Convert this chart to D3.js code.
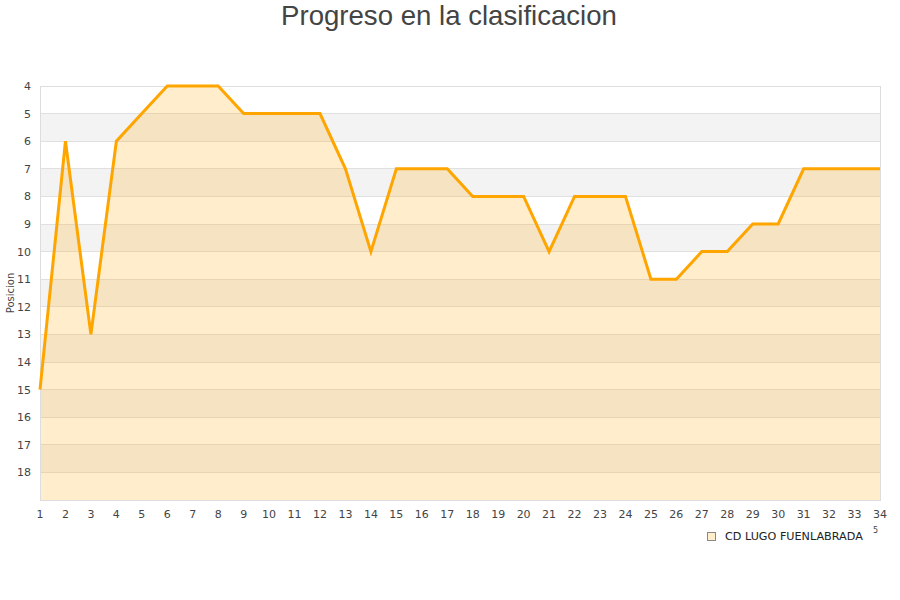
<!DOCTYPE html>
<html><head><meta charset="utf-8">
<script src="https://cdn.jsdelivr.net/npm/d3@7"></script>
<style>body{margin:0;background:#fff}svg{display:block}</style>
</head><body>
<svg id="c" width="900" height="600"></svg>
<script>
const jornadas = d3.range(1, 35);
const posiciones = [15,6,13,6,5,4,4,4,5,5,5,5,7,10,7,7,7,8,8,8,10,8,8,8,11,11,10,10,9,9,7,7,7,7];
const yTicks = [4,5,6,7,8,9,10,11,12,13,14,15,16,17,18];
const seriesName = "CD LUGO FUENLABRADA";
const title = "Progreso en la clasificacion";
const yTitle = "Posicion";

const svg = d3.select("#c");
const L = 40, R = 880, T = 86, B = 500;
const x = d3.scaleLinear().domain([1, 34]).range([L, R]);
const y = d3.scaleLinear().domain([4, 19]).range([T, B]);

// stripes
svg.append("g").selectAll("rect").data(d3.range(4, 19)).join("rect")
  .attr("x", L).attr("width", R - L)
  .attr("y", d => y(d)).attr("height", d => y(d + 1) - y(d))
  .attr("fill", d => d % 2 === 1 ? "#f3f3f3" : "#ffffff");

// gridlines
svg.append("g").selectAll("line").data(d3.range(4, 20)).join("line")
  .attr("x1", L).attr("x2", R).attr("y1", d => y(d)).attr("y2", d => y(d))
  .attr("stroke", "#e0e0e0").attr("stroke-width", 1).attr("shape-rendering", "crispEdges");

// area
const data = jornadas.map((j, i) => ({j, p: posiciones[i]}));
svg.append("path").datum(data)
  .attr("d", d3.area().x(d => x(d.j)).y0(y(19)).y1(d => y(d.p)))
  .attr("fill", "rgba(255,165,0,0.2)");

// frame
svg.append("rect").attr("x", L).attr("y", T).attr("width", R - L).attr("height", B - T)
  .attr("fill", "none").attr("stroke", "#dddddd").attr("shape-rendering", "crispEdges");

// line
svg.append("path").datum(data)
  .attr("d", d3.line().x(d => x(d.j)).y(d => y(d.p)))
  .attr("fill", "none").attr("stroke", "#ffa500").attr("stroke-width", 3)
  .attr("stroke-linejoin", "miter");

// y axis labels
svg.append("g").selectAll("text").data(yTicks).join("text")
  .attr("x", 31).attr("y", d => y(d)).attr("dy", "0.36em")
  .attr("text-anchor", "end")
  .attr("font-family", "DejaVu Sans").attr("font-size", 11).attr("fill", "#444")
  .text(d => d);

// x axis labels
svg.append("g").selectAll("text").data(jornadas).join("text")
  .attr("x", d => x(d)).attr("y", 518)
  .attr("text-anchor", "middle")
  .attr("font-family", "DejaVu Sans").attr("font-size", 11).attr("fill", "#444")
  .text(d => d);

// y title
svg.append("text").attr("transform", "translate(14,293) rotate(-90)")
  .attr("text-anchor", "middle")
  .attr("font-family", "DejaVu Sans").attr("font-size", 10).attr("fill", "#444")
  .text(yTitle);

// title
svg.append("text").attr("x", 449).attr("y", 25).attr("text-anchor", "middle")
  .attr("font-family", "Liberation Sans, Arial, sans-serif").attr("font-size", 27.6).attr("fill", "#444")
  .text(title);

// legend
svg.append("rect").attr("x", 707.5).attr("y", 532.5).attr("width", 8).attr("height", 8)
  .attr("fill", "#ffeecc").attr("stroke", "#888").attr("stroke-width", 1);
svg.append("text").attr("x", 725).attr("y", 540)
  .attr("font-family", "DejaVu Sans").attr("font-size", 11.2).attr("fill", "#222")
  .text(seriesName);
svg.append("text").attr("x", 873).attr("y", 533)
  .attr("font-family", "DejaVu Sans").attr("font-size", 8).attr("fill", "#444")
  .text("5");
</script>
</body></html>
